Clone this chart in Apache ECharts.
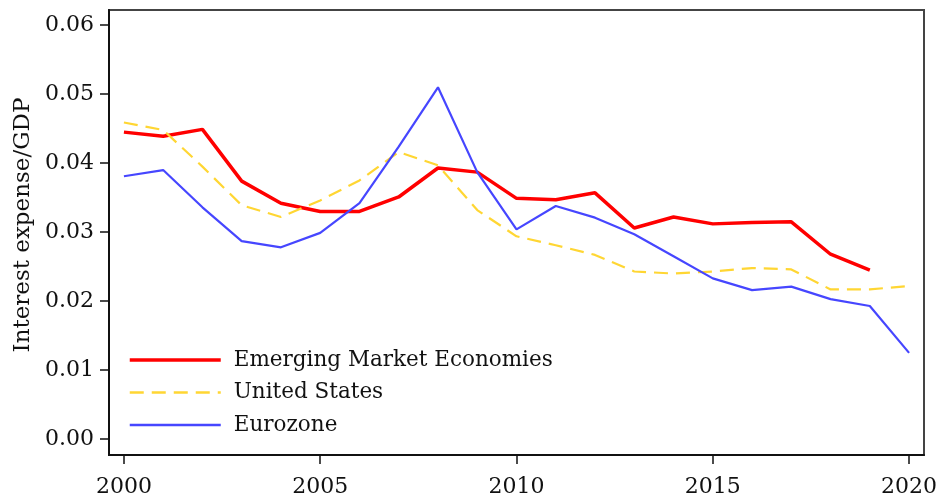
<!DOCTYPE html>
<html>
<head>
<meta charset="utf-8">
<script src="https://cdn.jsdelivr.net/npm/echarts@6/dist/echarts.min.js"></script>
<style>html,body{margin:0;padding:0;background:#fff}#c{width:945px;height:502px}</style>
</head>
<body>
<div id="c"></div>
<script>
const years = [2000,2001,2002,2003,2004,2005,2006,2007,2008,2009,2010,2011,2012,2013,2014,2015,2016,2017,2018,2019,2020];
const emerging = [0.0445,0.0439,0.0449,0.0374,0.0342,0.0330,0.0330,0.0351,0.0393,0.0387,0.0349,0.0347,0.0357,0.0306,0.0322,0.0312,0.0314,0.0315,0.0268,0.0245,null];
const unitedStates = [0.0459,0.0448,0.0395,0.0339,0.0322,0.0346,0.0375,0.0416,0.0397,0.0332,0.0294,0.0281,0.0267,0.0243,0.0240,0.0243,0.0248,0.0246,0.0217,0.0217,0.0222];
const eurozone = [0.0381,0.0390,0.0336,0.0287,0.0278,0.0299,0.0342,0.0424,0.0510,0.0387,0.0304,0.0338,0.0321,0.0297,0.0265,0.0233,0.0216,0.0221,0.0203,0.0193,0.0125];
const xTicks = [2000,2005,2010,2015,2020];
const yTicks = [0,0.01,0.02,0.03,0.04,0.05,0.06];
const seriesNames = ['Emerging Market Economies','United States','Eurozone'];
const yTitle = 'Interest expense/GDP';

const font = 'DejaVu Serif';
const pair = arr => years.map((y,i)=>[y,arr[i]]).filter(p=>p[1]!==null);
const chart = echarts.init(document.getElementById('c'), null, {renderer:'canvas'});
chart.setOption({
  animation:false,
  backgroundColor:'#fff',
  grid:{left:109,top:10,right:21,bottom:47,show:true,borderColor:'#444',borderWidth:2,backgroundColor:'transparent'},
  legend:{
    orient:'vertical',left:123,top:344,itemWidth:91,itemHeight:20,itemGap:10.5,
    itemStyle:{opacity:0},
    textStyle:{fontFamily:font,fontSize:21.5,color:'#111',padding:[0,0,0,8]},
    data:[
      {name:seriesNames[0],lineStyle:{width:3.5}},
      {name:seriesNames[1],lineStyle:{width:2.5}},
      {name:seriesNames[2],lineStyle:{width:2.5}}
    ]
  },
  xAxis:{
    type:'value',min:1999.62,max:2020.38,
    axisLine:{show:true,onZero:false,lineStyle:{color:'#111',width:2}},
    axisTick:{show:true,length:9,lineStyle:{color:'#111',width:1.5},customValues:xTicks},
    axisLabel:{fontFamily:font,fontSize:22,color:'#111',margin:21,customValues:xTicks,formatter:v=>String(Math.round(v))},
    splitLine:{show:false}
  },
  yAxis:{
    type:'value',min:-0.0023,max:0.0622,
    name:yTitle,nameLocation:'middle',nameGap:69,
    nameTextStyle:{fontFamily:font,fontSize:23,color:'#111',padding:[0,0,0,15]},
    axisLine:{show:true,onZero:false,lineStyle:{color:'#111',width:2}},
    axisTick:{show:true,length:9,lineStyle:{color:'#111',width:1.5},customValues:yTicks},
    axisLabel:{fontFamily:font,fontSize:22,color:'#111',margin:15,customValues:yTicks,formatter:v=>v.toFixed(2)},
    splitLine:{show:false}
  },
  series:[
    {name:seriesNames[0],type:'line',data:pair(emerging),symbol:'none',color:'#ff0000',lineStyle:{color:'#ff0000',width:3.5}},
    {name:seriesNames[1],type:'line',data:pair(unitedStates),symbol:'none',color:'#ffd633',lineStyle:{color:'#ffd633',width:2.2,type:[14,8]}},
    {name:seriesNames[2],type:'line',data:pair(eurozone),symbol:'none',color:'#4646ff',lineStyle:{color:'#4646ff',width:2.2}}
  ]
});
</script>
</body>
</html>
